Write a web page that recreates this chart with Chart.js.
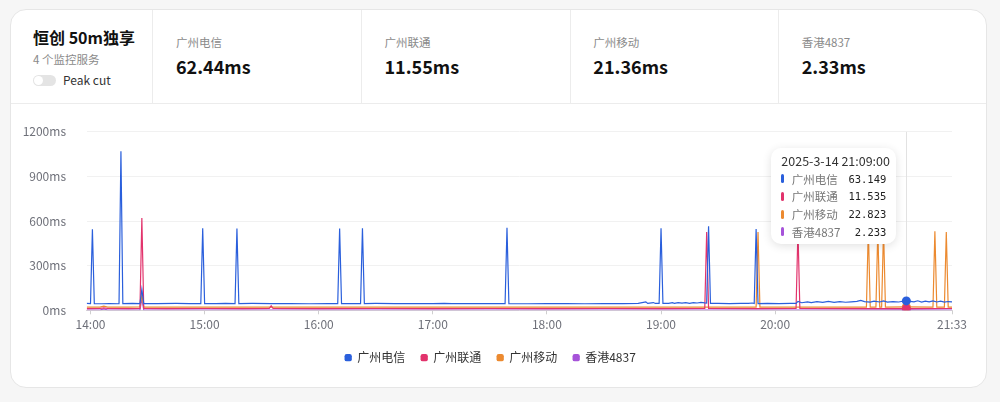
<!DOCTYPE html>
<html><head><meta charset="utf-8">
<script src="https://cdn.jsdelivr.net/npm/chart.js@4.4.1/dist/chart.umd.min.js"></script>
<style>
html,body{margin:0;padding:0;background:#f6f6f6;width:1000px;height:402px;overflow:hidden;font-family:"Noto Sans CJK SC","Noto Sans",sans-serif;}
#card{position:absolute;left:10px;top:9px;width:975px;height:377px;border:1px solid #e6e6e6;border-radius:16px;background:#fff;}
.abs{position:absolute;white-space:nowrap;}
.div{position:absolute;top:0;width:1px;height:93px;background:#ececec;}
#hdrline{position:absolute;left:0;top:93px;width:975px;height:1px;background:#ececec;}
#title{left:22px;top:16.5px;font-size:16px;line-height:20px;font-weight:700;color:#111;}
#sub{left:22px;top:41px;font-size:11.5px;line-height:16px;color:#8a8a8a;}
#toggle{position:absolute;left:21.5px;top:65px;width:23px;height:11px;border-radius:6px;background:#e4e4e4;}
#toggle:after{content:"";position:absolute;left:1px;top:1px;width:9px;height:9px;border-radius:50%;background:#fff;}
#peak{left:52px;top:62px;font-size:12px;line-height:16px;color:#333;}
.slab{top:24px;font-size:11.5px;line-height:16px;color:#8a8a8a;}
.sval{top:44px;font-size:18px;line-height:24px;font-weight:700;color:#111;}
#wrap{position:absolute;left:0;top:94px;width:975px;height:283px;}
#tip{position:absolute;width:125px;box-sizing:border-box;padding:4px 10px 3px 10px;background:#fff;border-radius:10px;box-shadow:0 2px 10px rgba(0,0,0,0.12);font-size:12.5px;color:#333;}
#tip .t{line-height:18px;height:18px;white-space:nowrap;}
#tip .r{display:flex;align-items:center;height:17.7px;}
#tip .m{width:3px;height:9px;border-radius:2px;margin-right:7.5px;}
#tip .l{color:#777;font-size:11.5px;flex:1;}
#tip .v{font-family:"DejaVu Sans Mono",monospace;font-size:10.5px;color:#222;}
</style></head>
<body>
<div id="card">
  <div id="title" class="abs">恒创 50m独享</div>
  <div id="sub" class="abs">4 个监控服务</div>
  <div id="toggle"></div>
  <div id="peak" class="abs">Peak cut</div>
  <div class="div" style="left:141px"></div>
  <div class="div" style="left:350px"></div>
  <div class="div" style="left:559px"></div>
  <div class="div" style="left:767px"></div>
  <div id="hdrline"></div>
  <div id="stats"></div>
  <div id="wrap"><canvas id="c"></canvas></div>
</div>
<div id="tip"></div>
<script>
const DATE = '2025-3-14';
const START_HOUR = 14;
const seriesNames = ['广州电信', '广州联通', '广州移动', '香港4837'];
const seriesColors = ['#2a5fdc', '#e2336c', '#ec8a30', '#a653d9'];
const statValues = ['62.44ms', '11.55ms', '21.36ms', '2.33ms'];
const statLeft = [165, 373.5, 582.3, 790.7];
const xTickMinutes = [0, 60, 120, 180, 240, 300, 360, 453];
const yTickValues = [0, 300, 600, 900, 1200];
const HOVER_T = 429;

// [minutes after 14:00, ms]
const telecom = [
 [-2,46],[0,45],[1,545],[2,45],[6,44],[10,45],[15,44],[16,1070],[17,45],[22,46],[26,45],[27,141],[28,45],[35,45],[45,46],[52,45],
 [58,45],[59,552],[60,45],[66,45],[71,46],[76,45],[77,550],[78,45],[85,46],[95,45],[105,45],[115,44],[125,45],[130,45],[131,550],
 [132,45],[142,45],[143,552],[144,45],[150,46],[160,45],[170,45],[180,45],[186,46],[190,45],[200,45],[210,45],[218,45],[219,556],
 [220,45],[230,44],[240,45],[250,45],[260,44],[270,45],[280,45],[288,46],[292,57],[293,46],[296,52],[297,46],[299,46],[300,552],
 [301,47],[304,46],[306,51],[307,47],[309,52],[311,48],[313,51],[315,47],[317,52],[319,49],[321,53],[323,50],[324,49],[325,565],
 [326,46],[330,46],[336,45],[342,46],[346,46],[348,49],[349,46],[350,547],[351,45],[356,46],[362,45],[368,46],[371,47],[372,60],
 [374,51],[377,57],[379,52],[382,58],[385,53],[388,60],[391,54],[394,58],[397,54],[400,57],[403,60],[405,67],[407,58],[410,55],
 [412,62],[415,56],[417,63],[419,55],[422,58],[425,56],[427,61],[429,63.149],[431,60],[433,57],[435,64],[437,55],[439,61],[441,57],
 [443,63],[445,56],[447,61],[449,55],[451,59],[453,57]
];
const unicom = [
 [-2,11],[5,12],[7,16],[9,12],[20,11],[26,12],[27,620],[28,12],[40,11],[60,12],[80,11],[94,12],[95,30],[96,12],[120,11],[150,12],
 [180,11],[210,12],[240,11],[270,12],[300,11],[323,12],[324,527],[325,12],[350,11],[371,12],[372,540],[373,12],[400,11],
 [429,11.535],[453,12]
];
const mobile = [
 [-2,22],[5,22],[7,28],[9,22],[20,21],[26,22],[27,105],[28,22],[60,21],[100,22],[140,21],[180,22],[220,21],[260,22],[300,21],
 [330,22],[350,22],[351,527],[352,22],[380,22],[408,22],[409,545],[410,22],[413,22],[414,540],[415,22],[416,22],[417,545],[418,22],
 [429,22.823],[443,22],[444,532],[445,22],[449,22],[450,527],[451,22],[453,22]
];
const hk = [
 [-2,2],[5,2],[7,9],[9,2],[26,2],[27,75],[28,2],[60,2],[120,2],[180,2],[240,2],[300,2],[360,2],[400,2],[429,2.233],[453,2]
];
const seriesData = [telecom, unicom, mobile, hk];

const pad2 = n => (n < 10 ? '0' : '') + n;
const minuteLabel = m => { const t = START_HOUR * 60 + m; return Math.floor(t / 60) + ':' + pad2(t % 60); };

// header stats
const stats = document.getElementById('stats');
seriesNames.forEach((n, i) => {
  const a = document.createElement('div'); a.className = 'abs slab'; a.style.left = statLeft[i] + 'px'; a.textContent = n; stats.appendChild(a);
  const b = document.createElement('div'); b.className = 'abs sval'; b.style.left = statLeft[i] + 'px'; b.textContent = statValues[i]; stats.appendChild(b);
});

Chart.defaults.font.family = '"Noto Sans CJK SC","Noto Sans",sans-serif';
Chart.defaults.font.size = 12;

const crosshair = {
  id: 'crosshair',
  beforeDatasetsDraw(chart) {
    const x = chart.scales.x.getPixelForValue(HOVER_T);
    const ctx = chart.ctx;
    ctx.save();
    ctx.strokeStyle = '#e2e2e2';
    ctx.lineWidth = 1;
    ctx.beginPath();
    ctx.moveTo(Math.round(x) + 0.5, chart.chartArea.top);
    ctx.lineTo(Math.round(x) + 0.5, chart.chartArea.bottom);
    ctx.stroke();
    ctx.restore();
  }
};

const chart = new Chart(document.getElementById('c'), {
  type: 'line',
  data: {
    datasets: seriesData.map((d, i) => ({
      label: seriesNames[i],
      data: d.map(([x, y]) => ({ x, y })),
      borderColor: seriesColors[i],
      backgroundColor: seriesColors[i],
      borderWidth: 1.2,
      tension: 0,
      pointRadius: ctx => (ctx.raw && ctx.raw.x === HOVER_T ? 4.5 : 0),
      pointBorderWidth: 0,
      pointBackgroundColor: seriesColors[i],
      pointStyle: 'circle'
    }))
  },
  options: {
    responsive: true,
    maintainAspectRatio: false,
    animation: false,
    events: [],
    layout: { padding: { top: 23.3, right: 16, bottom: 13.3, left: 0 } },
    plugins: {
      tooltip: { enabled: false },
      legend: {
        position: 'bottom',
        labels: {
          usePointStyle: true,
          pointStyle: 'rectRounded',
          boxWidth: 6,
          boxHeight: 6,
          padding: 16,
          color: '#333',
          font: { size: 12 }
        }
      }
    },
    scales: {
      x: {
        type: 'linear',
        min: -2,
        max: 453,
        afterBuildTicks: s => { s.ticks = xTickMinutes.map(v => ({ value: v })); },
        afterFit: s => { s.height = 25.4; },
        grid: { display: true, drawOnChartArea: false, drawTicks: true, tickLength: 4, color: '#cfcfcf' },
        border: { display: true, color: '#d6d6d6' },
        ticks: { autoSkip: false, maxRotation: 0, padding: 3, color: '#6e7079', callback: v => minuteLabel(v) }
      },
      y: {
        min: 0,
        max: 1200,
        afterBuildTicks: s => { s.ticks = yTickValues.map(v => ({ value: v })); },
        afterFit: s => { s.width = 75.7; },
        grid: { color: '#f1f1f1', drawTicks: false },
        border: { display: false },
        ticks: { padding: 20.7, color: '#6e7079', callback: v => v + 'ms' }
      },
      spacer: {
        type: 'linear',
        position: 'right',
        display: true,
        min: 0,
        max: 1,
        afterFit: s => { s.width = 18; },
        grid: { display: false, drawOnChartArea: false, drawTicks: false },
        border: { display: false },
        ticks: { display: false }
      }
    }
  },
  plugins: [crosshair]
});

// tooltip box
const tip = document.getElementById('tip');
let html = '<div class="t">' + DATE + ' ' + minuteLabel(HOVER_T) + ':00</div>';
seriesData.forEach((d, i) => {
  const p = d.find(q => q[0] === HOVER_T);
  html += '<div class="r"><span class="m" style="background:' + seriesColors[i] + '"></span><span class="l">' + seriesNames[i] + '</span><span class="v">' + p[1].toFixed(3) + '</span></div>';
});
tip.innerHTML = html;
const wrapRect = document.getElementById('wrap').getBoundingClientRect();
const xPix = chart.scales.x.getPixelForValue(HOVER_T);
tip.style.left = (wrapRect.left + xPix - 10 - tip.offsetWidth) + 'px';
tip.style.top = (wrapRect.top + chart.chartArea.top + 16) + 'px';
</script>
</body></html>
